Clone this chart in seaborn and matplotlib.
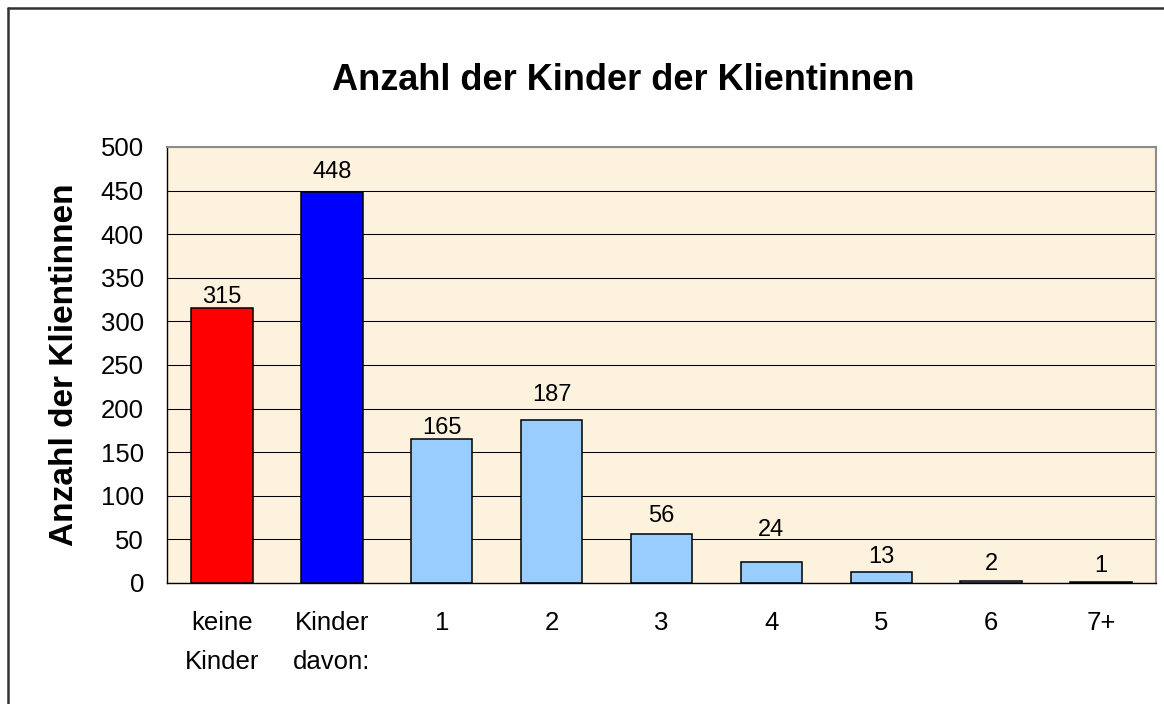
import matplotlib
matplotlib.use("Agg")
import matplotlib.pyplot as plt
import seaborn as sns
import pandas as pd
from matplotlib.lines import Line2D

# ---- data ----
categories = ["keine\nKinder", "Kinder\ndavon:", "1", "2", "3", "4", "5", "6", "7+"]
values = [315, 448, 165, 187, 56, 24, 13, 2, 1]
bar_colors = ["#FF0000", "#0000FF", "#99CCFF", "#99CCFF", "#99CCFF",
              "#99CCFF", "#99CCFF", "#99CCFF", "#99CCFF"]
y_ticks = list(range(0, 501, 50))
title = "Anzahl der Kinder der Klientinnen"
y_label = "Anzahl der Klientinnen"

# label gap above bar top (pixels), style only
label_gap_px = [5, 14, 5, 19, 12, 26, 9, 11, 10]

sns.set_style("white")
plt.rcParams["font.family"] = ["Liberation Sans", "DejaVu Sans"]
plt.rcParams["text.color"] = "black"
plt.rcParams["xtick.color"] = "black"
plt.rcParams["ytick.color"] = "black"
plt.rcParams["axes.labelcolor"] = "black"

W, H = 1164, 704
fig = plt.figure(figsize=(W / 100, H / 100), dpi=100)
fig.patch.set_facecolor("white")

ax = fig.add_axes([167 / W, (H - 583) / H, (1156 - 167) / W, (583 - 147) / H])
ax.set_facecolor("#FCF2DE")

df = pd.DataFrame({"cat": categories, "val": values})
sns.barplot(data=df, x="cat", y="val", hue="cat", palette=bar_colors,
            legend=False, width=0.56, edgecolor="black", linewidth=1.1,
            saturation=1, ax=ax)

ax.set_xlim(-0.5, len(categories) - 0.5)
ax.set_ylim(0, 500)
ax.set_yticks(y_ticks)
ax.set_yticklabels([str(t) for t in y_ticks])
ax.set_xlabel("")
ax.set_ylabel("")

ax.set_axisbelow(True)
ax.yaxis.grid(True, color="black", linewidth=0.75)
ax.xaxis.grid(False)

for s in ["top", "right"]:
    ax.spines[s].set_color("#8C8C8C")
    ax.spines[s].set_linewidth(1.5)
for s in ["left", "bottom"]:
    ax.spines[s].set_color("black")
    ax.spines[s].set_linewidth(1.0)

ax.tick_params(axis="y", which="major", direction="out", length=8.6,
               width=0.75, color="black", pad=8, labelsize=18.5,
               labelcolor="black")
ax.tick_params(axis="x", which="major", length=0, pad=20, labelsize=18.5,
               labelcolor="black")
ax.set_xticks(range(len(categories)))
ax.set_xticklabels(categories, linespacing=1.8)
ax.set_xticks([i - 0.5 for i in range(len(categories) + 1)], minor=True)
ax.tick_params(axis="x", which="minor", direction="out", length=6.5,
               width=0.75, color="black")

for i, v in enumerate(values):
    ax.annotate(str(v), xy=(i, v), xytext=(0, label_gap_px[i] * 0.72),
                textcoords="offset points", ha="center", va="baseline",
                fontsize=17, color="black")

fig.text(623 / W, 1 - 80 / H, title, ha="center", va="center",
         fontsize=26, fontweight="bold", color="black")
fig.text(65 / W, 1 - 365 / H, y_label, ha="center", va="center",
         rotation=90, fontsize=24, fontweight="bold", color="black")

# outer chart border (top and left visible)
bx, by = 8 / W, 1 - 8 / H
fig.add_artist(Line2D([bx, bx], [0, by], transform=fig.transFigure,
                      color="#333333", linewidth=1.8))
fig.add_artist(Line2D([bx, 1], [by, by], transform=fig.transFigure,
                      color="#333333", linewidth=1.8))

fig.savefig("out.png", dpi=100, facecolor="white")
